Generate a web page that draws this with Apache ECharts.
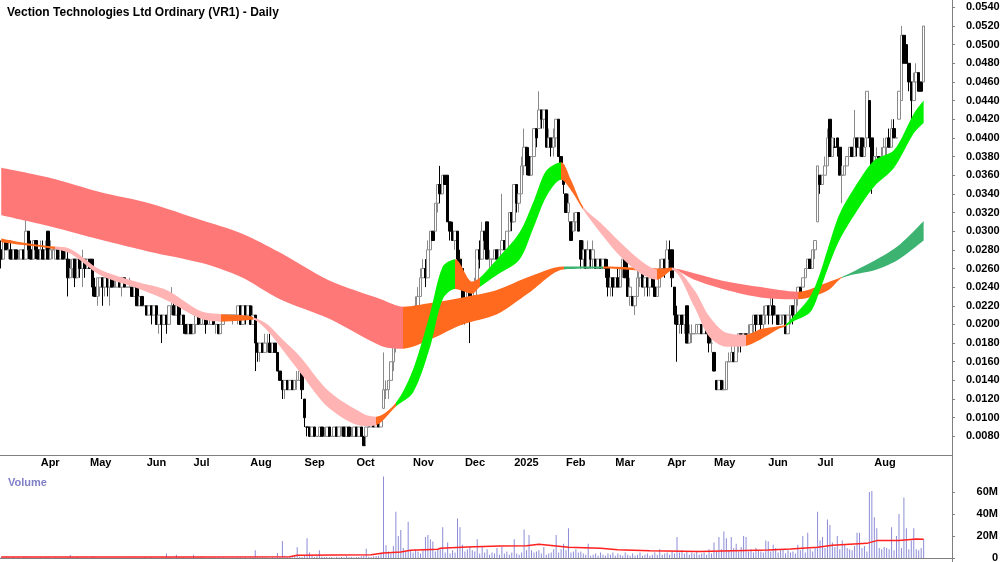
<!doctype html>
<html>
<head>
<meta charset="utf-8">
<title>VR1 - Daily</title>
<script src="https://cdn.jsdelivr.net/npm/echarts@6/dist/echarts.min.js"></script>
<style>
  html, body { margin: 0; padding: 0; background: #fff; }
  #chart { width: 1000px; height: 562px; }
</style>
</head>
<body>
<div id="chart"></div>
<script>
// prices in units of 0.001 AUD, one row per month (Mar 2024 .. Aug 2025)
var opens = [
  28,27,29,28,28,27,28,27,27,28,27,30,28,27,29,28,
  27,28,27,30,27,28,27,28,27,28,27,27,25,26,27,25,27,26,27,26,
  27,27,24,23,24,25,24,25,24,25,24,24,25,24,25,24,24,24,23,24,22,23,22,
  22,21,22,21,22,20,21,20,21,20,22,22,21,22,20,21,20,19,20,
  19,20,21,20,20,21,20,20,21,20,20,19,20,21,21,21,21,21,21,22,20,22,21,
  22,20,21,18,17,18,17,18,18,17,18,17,15,14,13,14,13,14,13,14,14,15,
  12,9,9,8,9,8,8,9,8,8,9,8,8,9,8,9,9,8,9,8,8,
  9,8,9,8,8,9,9,10,9,10,9,11,13,13,14,16,18,20,19,20,18,19,20,
  19,21,22,23,25,26,25,28,30,30,33,35,34,36,36,31,30,29,30,27,26,
  22,21,24,21,23,24,28,27,30,31,27,27,27,28,27,28,29,28,30,32,
  31,35,33,34,37,39,38,36,38,41,41,43,42,43,39,40,39,40,42,38,37,
  34,32,31,30,31,32,29,27,28,26,28,27,27,26,27,26,27,26,24,25,
  24,25,24,26,27,26,23,23,22,23,25,26,24,25,24,25,24,23,24,26,27,
  26,28,28,24,21,20,21,20,22,18,19,19,19,19,20,19,20,19,18,
  17,14,13,14,13,13,16,16,17,16,18,19,18,19,18,19,20,21,20,21,20,21,
  22,21,22,21,21,20,21,21,19,21,22,21,23,24,24,25,26,27,26,28,
  31,36,35,36,37,42,38,39,40,39,36,36,37,38,39,38,40,39,40,38,40,44,40,
  36,37,38,37,38,39,40,39,41,40,42,44,51,50,48,46,44,46,47,46,46
];
var closes = [
  27,29,28,28,27,28,27,27,28,27,30,28,27,29,28,27,
  28,27,28,27,28,28,28,27,28,27,27,25,26,27,25,27,26,27,26,27,
  26,24,23,25,25,24,25,24,25,24,24,25,24,25,24,24,24,23,24,22,23,22,22,
  21,22,21,22,20,21,20,21,20,22,22,21,22,20,21,20,19,20,19,
  20,21,20,20,21,20,20,21,20,20,19,20,21,21,21,21,21,21,22,20,22,21,22,
  20,21,18,17,18,17,18,18,17,18,17,15,14,13,14,13,14,13,14,14,15,13,
  10,9,8,9,8,8,9,8,8,9,8,8,9,8,9,9,8,9,8,8,9,
  8,9,8,7,9,9,10,9,10,9,10,13,13,14,16,18,20,19,20,18,19,20,19,
  21,22,23,25,26,25,28,30,29,33,35,34,36,35,31,30,29,30,27,26,22,
  21,24,21,23,24,28,27,30,29,27,27,27,28,27,28,29,28,30,32,31,
  35,33,34,37,39,37,36,38,41,40,43,42,43,39,40,39,40,42,38,37,35,
  32,33,29,31,32,30,27,28,26,28,27,28,26,27,26,27,26,24,25,24,
  25,24,26,27,25,23,24,22,23,25,26,24,25,24,25,24,23,24,26,27,26,
  28,27,25,21,20,21,20,21,18,19,19,19,20,20,19,20,19,18,18,
  15,13,14,13,13,16,16,17,16,18,19,18,19,18,19,20,21,20,21,20,21,22,
  21,22,21,21,20,21,21,19,21,22,21,23,24,23,25,26,27,26,28,29,
  37,35,36,37,40,38,40,39,39,36,36,37,38,39,38,40,39,40,38,39,45,40,36,
  38,38,37,38,39,40,39,41,40,40,45,51,48,48,46,44,46,47,45,45,52
];
var highs = [
  29,29,29,29,29,28,28,28,28,28,32,30,29,29,29,28,
  29,29,29,30,29,28,28,28,28,28,28,28,27,27,27,27,27,28,27,27,
  27,27,25,25,25,25,25,25,25,25,25,25,25,25,25,24,25,24,24,24,23,23,22,
  22,22,22,22,22,21,21,21,21,22,24,23,22,22,21,21,20,20,20,
  20,21,21,21,21,21,20,21,21,20,20,20,21,21,21,21,21,21,22,22,22,22,22,
  22,22,21,18,18,18,19,19,19,18,18,17,15,14,14,14,14,14,14,15,16,15,
  12,9,9,9,9,8,9,9,9,9,9,8,9,9,9,9,9,9,9,9,9,
  9,9,9,8,9,10,10,10,10,10,10,17,14,14,16,18,21,21,21,20,20,20,21,
  22,23,24,26,27,27,29,30,30,33,35,37,36,36,36,31,31,30,30,28,26,
  24,24,24,23,25,28,29,31,30,31,28,27,28,28,28,34,29,30,32,32,
  35,35,34,38,41,39,39,38,41,41,45,43,43,43,41,40,41,42,42,38,37,
  34,34,31,32,32,32,29,29,28,29,28,29,27,27,27,27,27,27,25,25,
  25,26,26,27,27,27,25,23,23,26,26,26,25,25,25,25,25,24,27,27,27,
  29,29,28,24,22,21,21,21,22,20,20,19,20,20,20,20,20,19,19,
  17,14,14,14,14,16,17,18,17,18,19,19,19,19,20,20,21,21,21,21,22,22,
  22,23,23,22,21,21,21,21,21,22,22,23,24,24,25,26,27,27,28,29,
  37,36,36,38,41,42,40,40,40,39,37,37,38,39,39,43,40,40,40,40,45,44,40,
  38,39,38,39,40,40,41,42,42,40,45,52,51,50,48,46,47,48,47,46,52
];
var lows = [
  26,27,28,27,27,27,27,27,27,27,27,27,27,27,27,27,
  27,27,27,27,27,27,27,27,27,27,27,23,25,25,24,25,25,24,25,26,
  26,23,23,22,23,22,23,23,22,24,24,24,24,23,24,24,24,23,23,22,22,22,22,
  21,21,20,21,20,19,18,20,19,20,21,21,21,20,20,19,19,19,19,
  19,19,20,20,20,19,20,20,20,19,19,19,20,21,21,21,20,21,20,20,20,20,21,
  20,20,15,16,16,17,17,17,17,17,17,15,14,12,12,13,13,13,13,13,14,12,
  9,8,8,8,8,8,8,8,8,8,8,8,8,8,8,8,8,8,8,8,8,
  8,8,8,7,7,9,9,9,9,9,9,11,12,12,14,15,17,18,18,18,18,18,18,
  19,21,22,23,25,24,25,28,29,30,32,33,34,35,31,29,29,28,26,26,20,
  20,21,18,21,22,23,26,27,28,27,26,26,27,27,27,28,28,28,30,30,
  31,32,32,34,36,36,36,36,38,39,41,41,41,39,39,38,38,39,38,36,34,
  32,31,29,30,30,30,26,26,26,26,26,26,26,26,26,26,25,23,23,23,
  24,24,24,25,25,23,22,22,21,23,24,24,23,23,23,24,23,23,24,26,25,
  26,26,24,20,16,19,19,19,18,18,18,19,19,19,19,19,19,17,17,
  15,13,13,13,13,13,16,16,16,16,17,17,18,18,18,19,19,19,20,19,19,20,
  20,21,20,21,20,20,20,19,19,20,20,21,22,23,24,25,26,26,26,27,
  31,34,35,36,37,38,38,39,38,36,33,36,37,38,38,38,38,38,38,38,39,39,34,
  35,37,37,37,38,38,39,39,40,40,42,44,48,48,45,41,44,45,45,45,46
];
// volume in millions
var volumes = [
  0.8,0.5,1.2,0.6,0.4,0.9,0.5,0.7,0.3,1.0,1.5,0.8,0.6,0.4,0.7,0.5,
  0.6,0.4,0.8,1.1,0.5,0.3,0.6,0.4,0.7,0.5,0.4,1.2,2.7,0.8,0.5,0.9,0.6,0.4,0.7,0.5,
  0.5,1.5,0.8,0.6,0.4,0.7,0.3,0.5,0.8,0.4,0.3,0.6,0.5,0.4,0.3,0.5,0.6,0.4,0.8,0.5,0.4,0.6,0.7,
  0.6,0.5,0.8,0.4,0.5,0.7,0.6,0.5,4.0,0.8,0.6,0.5,3.0,0.7,0.5,0.6,0.8,0.4,0.5,
  3.0,0.5,0.6,1.2,0.8,0.5,0.4,0.7,0.6,0.5,0.8,0.4,0.6,0.5,0.3,0.4,0.6,0.5,0.8,0.6,0.7,0.9,0.5,
  0.8,1.0,7.0,1.5,0.8,1.2,0.9,0.7,0.6,0.8,1.0,4.5,1.2,15.5,2.0,1.0,0.8,0.7,1.5,9.7,1.2,1.0,
  2.5,18,5,2,1,1.5,7,1.2,0.8,1,0.6,0.8,0.5,1.2,0.7,0.9,0.6,1.5,0.8,1,0.7,
  1,0.8,1.5,2,8.5,1.2,1,1.5,1.8,2,5,74,11.5,6,4,11,42,20,25.5,9,6,33,7,
  5,8,6,4,7,19,21,17,15,6,8,8,28,5,14,4,7,5,36,28,12,
  6,8,10,7,6,17,4,11,5,8,3,5,4,9,3,10,4,6,3,5,
  17,4,3,5,26,7,21,7,5,6,7,4,10,3,4,5,8,21,5,8,13,
  7,27,5,6,8,5,6,4,3,13,2,3,4,2,5,3,2,4,3,5,
  2,4,3,2,5,3,2,4,2,3,5,2,3,4,2,3,5,3,8,3,4,
  5,3,6,4,19,5,7,4,6,3,5,4,6,3,4,5,3,8,4,
  14,6,19,8,24,18,7,19,9,13,6,10,20,19,6,8,5,9,7,6,5,16,
  15,6,12,9,5,7,8,4,7,5,6,4,12,7,20,5,23,8,6,9,
  42,16,19,9,35,30,14,10,20,8,16,12,9,8,7,11,23,23,9,11,6,60,61,
  37,27,9,8,10,9,8,28,7,20,40,9,55,27,8,16,27,8,7,9,17
];

// volume moving average, read at bar positions
var volMaIdx = [0, 40, 80, 117, 120, 150, 155, 162, 166, 177, 178, 189, 202, 213, 218, 230, 243, 250, 263, 283, 297, 311, 320, 331, 337, 351, 355, 364, 371, 374];
var volMaVal = [1.0, 1.0, 0.9, 1.2, 2.5, 3.0, 4.5, 5.5, 7.0, 8.0, 8.8, 10.0, 11.0, 11.2, 12.4, 9.7, 8.8, 7.6, 6.7, 5.8, 6.7, 7.3, 8.2, 9.7, 11.5, 13.3, 15.8, 15.8, 17.3, 17.0];

// long-term average ribbon (edges, 0.001 units) read at bar positions
var longIdx = [0, 20, 40, 60, 81, 97, 113, 133, 154, 163, 174, 187, 201, 214, 228, 244, 267, 272, 281, 294, 308, 323, 335, 341, 355, 364, 374];
var longTop = [36.8, 35.7, 34.2, 33.0, 31.2, 29.8, 27.7, 24.7, 22.7, 21.9, 22.3, 22.9, 23.7, 25.1, 26.2, 26.2, 26.0, 26.0, 25.5, 24.6, 24.0, 23.5, 24.5, 25.1, 27.0, 28.5, 31.1];
var longBot = [31.7, 30.5, 29.1, 27.8, 26.6, 25.1, 22.7, 20.6, 17.7, 17.4, 18.4, 20.0, 21.1, 23.4, 25.9, 26.0, 25.7, 25.9, 24.8, 23.7, 22.9, 22.7, 23.6, 25.0, 25.9, 27.0, 29.0];
// trend state of the ribbon between bar indexes
var longStates = [[0, 163, 'down'], [163, 228, 'turn'], [228, 244, 'up'], [244, 272, 'turn'], [272, 323, 'down'], [323, 341, 'turn'], [341, 386, 'up']];

// short-term average ribbon
var shortIdx = [0, 6, 19, 28, 40, 56, 67, 81, 89, 97, 102, 108, 114, 121, 133, 147, 152, 160, 167, 174, 179, 184, 191, 194, 201, 210, 216, 221, 227, 231, 236, 243, 251, 259, 266, 272, 281, 287, 294, 302, 308, 315, 318, 321, 328, 332, 335, 340, 348, 354, 362, 370, 374];
var shortTop = [29.2, 28.9, 28.4, 28.1, 25.9, 24.5, 23.7, 21.4, 21.1, 21.0, 20.8, 20.0, 18.4, 16.6, 12.8, 10.4, 10.1, 11.6, 15.2, 21.3, 26.2, 27.0, 24.6, 25.0, 27.0, 29.8, 33.3, 36.5, 37.4, 35.5, 32.6, 30.9, 28.8, 26.9, 25.9, 26.1, 23.7, 20.9, 19.1, 18.9, 19.5, 19.8, 20.0, 20.8, 23.0, 25.5, 28.0, 31.9, 35.5, 37.6, 38.7, 42.6, 44.0];
var shortBot = [28.8, 28.6, 28.2, 27.6, 25.3, 23.8, 22.6, 20.6, 20.3, 20.4, 20.5, 19.3, 17.3, 14.9, 11.0, 9.1, 9.2, 11.2, 12.7, 17.7, 22.7, 23.8, 23.3, 24.0, 25.3, 26.9, 30.5, 33.7, 35.5, 34.4, 32.3, 29.8, 27.3, 25.5, 24.8, 25.8, 21.9, 18.7, 17.6, 17.7, 18.4, 19.5, 19.8, 20.3, 21.3, 23.7, 25.9, 29.1, 32.6, 34.8, 36.8, 40.5, 41.6];
var shortStates = [[0, 22, 'turn'], [22, 89, 'down'], [89, 102, 'turn'], [102, 152, 'down'], [152, 160, 'turn'], [160, 184, 'up'], [184, 194, 'turn'], [194, 227, 'up'], [227, 236, 'turn'], [236, 266, 'down'], [266, 272, 'turn'], [272, 302, 'down'], [302, 318, 'turn'], [318, 386, 'up']];

var holidays = ['2024-03-29', '2024-04-01', '2024-04-25', '2024-06-10', '2024-12-25', '2024-12-26',
  '2025-01-01', '2025-01-27', '2025-04-18', '2025-04-21', '2025-04-25', '2025-06-09'];
var monthNames = ['Jan', 'Feb', 'Mar', 'Apr', 'May', 'Jun', 'Jul', 'Aug', 'Sep', 'Oct', 'Nov', 'Dec'];

// trading days, plus some empty room after the last bar
var slotCount = 386;
var days = [];
var d = new Date(Date.UTC(2024, 2, 7));
while (days.length < slotCount) {
  var s = d.toISOString().slice(0, 10);
  var wd = d.getUTCDay();
  if (wd !== 0 && wd !== 6 && holidays.indexOf(s) < 0) days.push(s);
  d.setUTCDate(d.getUTCDate() + 1);
}

var isMonthStart = function(i) {
  if (i === 0 || i >= closes.length) return false;
  return days[i].slice(5, 7) !== days[i - 1].slice(5, 7);
};

var candles = [];
for (var i = 0; i < closes.length; i++) {
  candles.push([opens[i], closes[i], lows[i], highs[i]]);
}

var colors = {
  long: { down: '#ff7878', turn: '#ff6a1e', up: '#3cb371' },
  short: { down: '#ffb3b3', turn: '#ff6a1e', up: '#00f000' }
};

function pieces(states, palette) {
  return states.map(function(st) {
    return { gte: st[0], lt: st[1], color: palette[st[2]] };
  });
}

// a ribbon = invisible lower edge + stacked width filled up to the upper edge
function ribbon(name, idx, tops, bots) {
  return [{
    name: name + 'Base',
    type: 'line',
    stack: name,
    smooth: 0.3,
    symbol: 'none',
    silent: true,
    lineStyle: { opacity: 0 },
    data: idx.map(function(x, k) { return [x, bots[k]]; })
  }, {
    name: name,
    type: 'line',
    stack: name,
    smooth: 0.3,
    symbol: 'none',
    silent: true,
    lineStyle: { opacity: 0 },
    areaStyle: { opacity: 1 },
    data: idx.map(function(x, k) { return [x, +(tops[k] - bots[k]).toFixed(2)]; })
  }];
}

var chart = echarts.init(document.getElementById('chart'));
var font = 'Liberation Sans, Arial, sans-serif';
var axisGray = '#7f7f7f';

var option = {
  animation: false,
  backgroundColor: '#fff',
  title: [{
    text: 'Vection Technologies Ltd Ordinary (VR1) - Daily',
    left: 2,
    top: 2,
    textStyle: { fontSize: 12, fontWeight: 'bold', color: '#000', fontFamily: font }
  }, {
    text: 'Volume',
    left: 3,
    top: 472,
    textStyle: { fontSize: 11, fontWeight: 'bold', color: '#8080c8', fontFamily: font }
  }],
  grid: [
    { left: 0, right: 48, top: -2, bottom: 107, outerBoundsMode: 'none' },
    { left: 0, right: 48, top: 470, bottom: 4, outerBoundsMode: 'none' }
  ],
  xAxis: [{
    type: 'category',
    gridIndex: 0,
    data: days,
    boundaryGap: true,
    axisLine: { lineStyle: { color: axisGray } },
    axisTick: { inside: true, length: 3, interval: isMonthStart, lineStyle: { color: axisGray } },
    axisLabel: {
      interval: isMonthStart,
      align: 'left',
      margin: 2,
      fontSize: 11,
      fontWeight: 'bold',
      color: '#000',
      fontFamily: font,
      formatter: function(v) {
        var m = +v.slice(5, 7);
        return m === 1 ? v.slice(0, 4) : monthNames[m - 1];
      }
    },
    splitLine: { show: false }
  }, {
    type: 'category',
    gridIndex: 1,
    data: days,
    position: 'top',
    boundaryGap: true,
    axisLine: { lineStyle: { color: axisGray } },
    axisTick: { show: false },
    axisLabel: { show: false },
    splitLine: { show: false }
  }],
  yAxis: [{
    type: 'value',
    gridIndex: 0,
    position: 'right',
    min: 6,
    max: 55,
    interval: 2,
    axisLine: { show: true, lineStyle: { color: axisGray } },
    axisTick: { show: true, length: 3, lineStyle: { color: axisGray } },
    splitLine: { show: false },
    axisLabel: {
      showMinLabel: false,
      showMaxLabel: false,
      margin: 14,
      fontSize: 11,
      fontWeight: 'bold',
      color: '#000',
      fontFamily: font,
      formatter: function(v) { return (v / 1000).toFixed(4); }
    }
  }, {
    type: 'value',
    gridIndex: 1,
    position: 'right',
    min: 0,
    max: 80,
    interval: 20,
    axisLine: { show: true, lineStyle: { color: axisGray } },
    axisTick: { show: true, length: 3, lineStyle: { color: axisGray } },
    splitLine: { show: false },
    axisLabel: {
      showMaxLabel: false,
      align: 'right',
      margin: 46,
      fontSize: 11,
      fontWeight: 'bold',
      color: '#000',
      fontFamily: font,
      formatter: function(v) { return v ? v + 'M' : '0'; }
    }
  }],
  visualMap: [
    { show: false, type: 'piecewise', seriesIndex: 1, dimension: 0, pieces: pieces(longStates, colors.long) },
    { show: false, type: 'piecewise', seriesIndex: 3, dimension: 0, pieces: pieces(shortStates, colors.short) }
  ],
  series: ribbon('long', longIdx, longTop, longBot)
    .concat(ribbon('short', shortIdx, shortTop, shortBot))
    .concat([{
      name: 'VR1',
      type: 'candlestick',
      barWidth: 3,
      silent: true,
      itemStyle: {
        color: '#ffffff',
        color0: '#000000',
        borderColor: '#8a8a8a',
        borderColor0: '#000000',
        borderWidth: 1
      },
      data: candles
    }, {
      name: 'Volume',
      type: 'bar',
      xAxisIndex: 1,
      yAxisIndex: 1,
      barWidth: 1,
      silent: true,
      itemStyle: { color: '#8c8cd8' },
      data: volumes
    }, {
      name: 'Volume MA',
      type: 'line',
      xAxisIndex: 1,
      yAxisIndex: 1,
      symbol: 'none',
      silent: true,
      lineStyle: { color: '#ff2020', width: 1.5 },
      data: volMaIdx.map(function(x, k) { return [x, volMaVal[k]]; })
    }]),
  graphic: [{
    type: 'line',
    silent: true,
    shape: { x1: 952.5, y1: 0, x2: 952.5, y2: 562 },
    style: { stroke: axisGray, lineWidth: 1 }
  }]
};

chart.setOption(option);
</script>
</body>
</html>
